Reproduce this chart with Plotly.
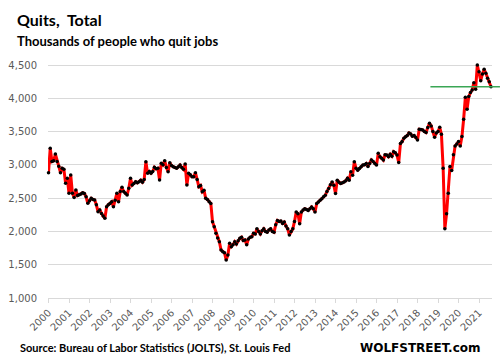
import plotly.graph_objects as go

# Monthly quits, thousands (Dec 2000 .. Jul 2022)
dec_2000 = [2882]
y2001 = [3249, 3050, 3060, 3163, 3050, 2980, 2882, 2948, 2933, 2723, 2798, 2573]
y2002 = [2848, 2573, 2510, 2622, 2540, 2550, 2562, 2582, 2570, 2520, 2422, 2460]
y2003 = [2498, 2480, 2472, 2400, 2296, 2322, 2270, 2230, 2197, 2372, 2400, 2420]
y2004 = [2447, 2372, 2470, 2573, 2447, 2600, 2663, 2600, 2573, 2547, 2650, 2798]
y2005 = [2697, 2720, 2747, 2730, 2747, 2770, 2740, 2780, 3047, 2873, 2900, 2873]
y2006 = [2900, 2963, 2940, 2948, 2773, 3023, 3000, 3063, 2960, 2897, 3033, 2990]
y2007 = [2972, 2960, 2948, 2970, 2997, 2960, 2933, 3013, 2697, 2873, 2850, 2823]
y2008 = [2823, 2882, 2780, 2672, 2690, 2597, 2620, 2497, 2480, 2447, 2420, 2147]
y2009 = [2071, 1972, 1900, 1846, 1721, 1696, 1680, 1571, 1646, 1822, 1771, 1800]
y2010 = [1846, 1810, 1860, 1897, 1913, 1862, 1872, 1800, 1887, 1913, 1921, 1972]
y2011 = [1963, 2039, 2000, 1963, 2010, 2039, 2000, 1988, 2020, 2039, 2000, 1988]
y2012 = [2100, 2165, 2150, 2155, 2120, 2140, 2080, 2039, 1948, 2000, 2039, 2150]
y2013 = [2291, 2266, 2115, 2291, 2320, 2341, 2330, 2316, 2340, 2367, 2340, 2291]
y2014 = [2420, 2442, 2470, 2492, 2520, 2543, 2600, 2643, 2700, 2744, 2694, 2568]
y2015 = [2770, 2740, 2719, 2730, 2744, 2760, 2800, 2770, 2895, 2845, 3047, 2948]
y2016 = [2920, 2946, 2970, 2996, 3000, 3021, 2975, 3021, 3073, 3050, 3020, 2996]
y2017 = [3173, 3122, 3100, 3072, 3150, 3147, 3122, 3160, 3130, 3198, 3180, 3147]
y2018 = [3035, 3320, 3350, 3400, 3424, 3440, 3480, 3465, 3430, 3440, 3410, 3375]
y2019 = [3535, 3530, 3525, 3500, 3485, 3560, 3625, 3585, 3500, 3415, 3480, 3500]
y2020 = [3565, 3460, 2950, 2040, 2265, 2575, 2975, 2915, 3150, 3285, 3315, 3350]
y2021 = [3285, 3425, 3685, 4015, 3835, 4025, 4085, 4125, 4235, 4135, 4500, 4400]
y2022 = [4265, 4365, 4435, 4375, 4300, 4250, 4175]

quits = (dec_2000 + y2001 + y2002 + y2003 + y2004 + y2005 + y2006 + y2007 + y2008
         + y2009 + y2010 + y2011 + y2012 + y2013 + y2014 + y2015 + y2016 + y2017
         + y2018 + y2019 + y2020 + y2021 + y2022)
months = list(range(len(quits)))

year_labels = [str(y) for y in range(2000, 2022)]
year_ticks = [12 * i for i in range(len(year_labels))]
y_ticks = [1000, 1500, 2000, 2500, 3000, 3500, 4000, 4500]

Y_MIN, Y_MAX = 1000, 4545

fig = go.Figure()
fig.add_trace(go.Scatter(
    x=months, y=quits, mode="lines+markers",
    line=dict(color="#ff0000", width=3),
    marker=dict(color="#000000", size=3.5),
    cliponaxis=False, showlegend=False, hoverinfo="skip",
))

PL, PR, PT, PB = 45, 8, 62, 63
W, H = 500, 361
pw, ph = W - PL - PR, H - PT - PB

def px(x):
    return (x - PL) / pw

def py(y):
    return (H - PB - y) / ph

last_frac = (quits[-1] - Y_MIN) / (Y_MAX - Y_MIN)
fig.add_shape(type="line", xref="paper", yref="paper",
              x0=px(430), x1=px(500), y0=last_frac, y1=last_frac,
              line=dict(color="#3aa655", width=1.5))

fig.update_layout(
    width=W, height=H,
    margin=dict(l=PL, r=PR, t=PT, b=PB, pad=0),
    paper_bgcolor="white", plot_bgcolor="white",
    xaxis=dict(
        range=[-0.3, 259.6], tickvals=year_ticks, ticktext=year_labels,
        tickangle=-45, showgrid=False, showline=True, linecolor="#d9d9d9",
        linewidth=1, ticks="outside", ticklen=4, tickcolor="#d9d9d9",
        tickfont=dict(family="DejaVu Sans", size=10, color="#595959"),
        zeroline=False,
    ),
    yaxis=dict(
        range=[Y_MIN, Y_MAX], tickvals=y_ticks, tickformat=",",
        showgrid=True, gridcolor="#d9d9d9", gridwidth=1, zeroline=False,
        showline=False, ticks="", ticklabelstandoff=10,
        tickfont=dict(family="DejaVu Sans", size=10, color="#595959"),
    ),
    annotations=[
        dict(text="Quits,  Total", xref="paper", yref="paper", x=px(12), y=py(19),
             xanchor="left", yanchor="middle", showarrow=False,
             font=dict(family="Lato", size=16, color="#000000", weight=700)),
        dict(text="Thousands of people who quit jobs", xref="paper", yref="paper",
             x=px(12), y=py(41.5), xanchor="left", yanchor="middle", showarrow=False,
             font=dict(family="Lato", size=13, color="#000000", weight=700)),
        dict(text="Source: Bureau of Labor Statistics (JOLTS), St. Louis Fed",
             xref="paper", yref="paper", x=px(15), y=py(347.5), xanchor="left",
             yanchor="middle", showarrow=False,
             font=dict(family="Lato", size=11, color="#000000", weight=700)),
        dict(text="WOLFSTREET.com", xref="paper", yref="paper", x=px(483), y=py(347.5),
             xanchor="right", yanchor="middle", showarrow=False,
             font=dict(family="DejaVu Sans", size=12, color="#000000", weight=700)),
    ],
)

fig.write_html("out.html",
               config={"displayModeBar": False, "staticPlot": True},
               post_script="document.body.style.margin='0';document.body.style.overflow='hidden';")
